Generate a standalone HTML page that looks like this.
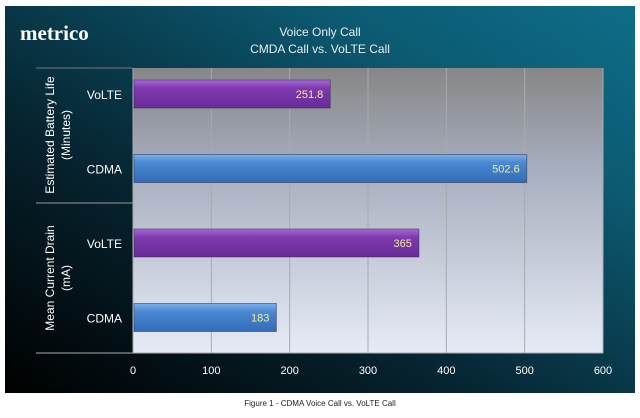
<!DOCTYPE html>
<html><head><meta charset="utf-8"><style>
body{margin:0;width:640px;height:413px;background:#fff;overflow:hidden;font-family:"Liberation Sans",sans-serif}
</style></head><body>
<svg width="640" height="413" viewBox="0 0 640 413">
<defs>
<linearGradient id="bg" x1="0" y1="1" x2="1" y2="0">
<stop offset="0" stop-color="#000"/><stop offset="0.35" stop-color="#06222e"/><stop offset="0.75" stop-color="#0c5a72"/><stop offset="1" stop-color="#0e6d88"/></linearGradient>
<linearGradient id="pa" x1="0" y1="0" x2="0" y2="1"><stop offset="0" stop-color="#868686"/><stop offset="0.35" stop-color="#a6adbd"/><stop offset="1" stop-color="#e6ebf6"/></linearGradient>
<linearGradient id="pu" x1="0" y1="0" x2="0" y2="1"><stop offset="0" stop-color="#a868d8"/><stop offset="0.3" stop-color="#7e3aae"/><stop offset="1" stop-color="#6a2a98"/></linearGradient>
<linearGradient id="bl" x1="0" y1="0" x2="0" y2="1"><stop offset="0" stop-color="#7ab0ea"/><stop offset="0.3" stop-color="#4a88d2"/><stop offset="1" stop-color="#336cb6"/></linearGradient>
</defs>
<rect x="5" y="6" width="630" height="387" fill="url(#bg)"/>
<text x="20" y="40" fill="#fff" font-family="Liberation Serif,serif" font-weight="bold" font-size="21">metrico</text>
<text x="320" y="36" fill="#e8eef2" font-size="12" text-anchor="middle">Voice Only Call</text>
<text x="320" y="53" fill="#e8eef2" font-size="12" text-anchor="middle">CMDA Call vs. VoLTE Call</text>
<rect x="133" y="68" width="470" height="285" fill="url(#pa)"/>
<g id="grid"></g>
<line x1="36" y1="68" x2="133" y2="68" stroke="#777" stroke-width="1"/>
<line x1="36" y1="203" x2="133" y2="203" stroke="#999" stroke-width="1"/>
<line x1="36" y1="353" x2="603" y2="353" stroke="#aaa" stroke-width="1"/>
<line x1="133" y1="68" x2="133" y2="353" stroke="#aaa" stroke-width="1"/>
<text transform="translate(54,135) rotate(-90)" fill="#fff" font-size="12" text-anchor="middle">Estimated Battery Life</text>
<text transform="translate(70,135) rotate(-90)" fill="#fff" font-size="12" text-anchor="middle">(Minutes)</text>
<text transform="translate(54,278) rotate(-90)" fill="#fff" font-size="12" text-anchor="middle">Mean Current Drain</text>
<text transform="translate(70,278) rotate(-90)" fill="#fff" font-size="12" text-anchor="middle">(mA)</text>
<g id="bars"></g>
<g id="ticks"></g>
<text x="320" y="406" fill="#222" font-size="8" text-anchor="middle">Figure 1 - CDMA Voice Call vs. VoLTE Call</text>
</svg>
<script>
const categories=["VoLTE","CDMA","VoLTE","CDMA"];
const values=[251.8,502.6,365,183];
const labels=["251.8","502.6","365","183"];
const colors=["pu","bl","pu","bl"];
const ticks=[0,100,200,300,400,500,600];
const NS="http://www.w3.org/2000/svg";
const x=v=>133+v*(470/600);
const yc=i=>94+i*74.5;
function mk(t,a,p){const e=document.createElementNS(NS,t);for(const k in a)e.setAttribute(k,a[k]);p.appendChild(e);return e;}
const g=document.getElementById('grid'),b=document.getElementById('bars'),tk=document.getElementById('ticks');
ticks.forEach(t=>{
 if(t>0){const l=mk('line',{x1:x(t),y1:68,x2:x(t),y2:353,stroke:'#a8aab0'},g);
 
 }
 const tx=mk('text',{x:x(t),y:374,fill:'#fff','font-size':11,'text-anchor':'middle'},tk);tx.textContent=t;
 
 
});
values.forEach((v,i)=>{
 const r=mk('rect',{x:134,y:yc(i)-14,width:x(v)-134,height:28,fill:'url(#'+colors[i]+')',stroke:'#2a2a4a','stroke-opacity':0.5},b);
 
 
 const t=mk('text',{x:x(v)-7,y:yc(i)+4,fill:'#f2ec9a','font-size':11,'text-anchor':'end'},b);t.textContent=labels[i];
 
 
 const c=mk('text',{x:122,y:yc(i)+5,fill:'#fff','font-size':12,'text-anchor':'end'},b);c.textContent=categories[i];
 
 
});
</script>
</body></html>
